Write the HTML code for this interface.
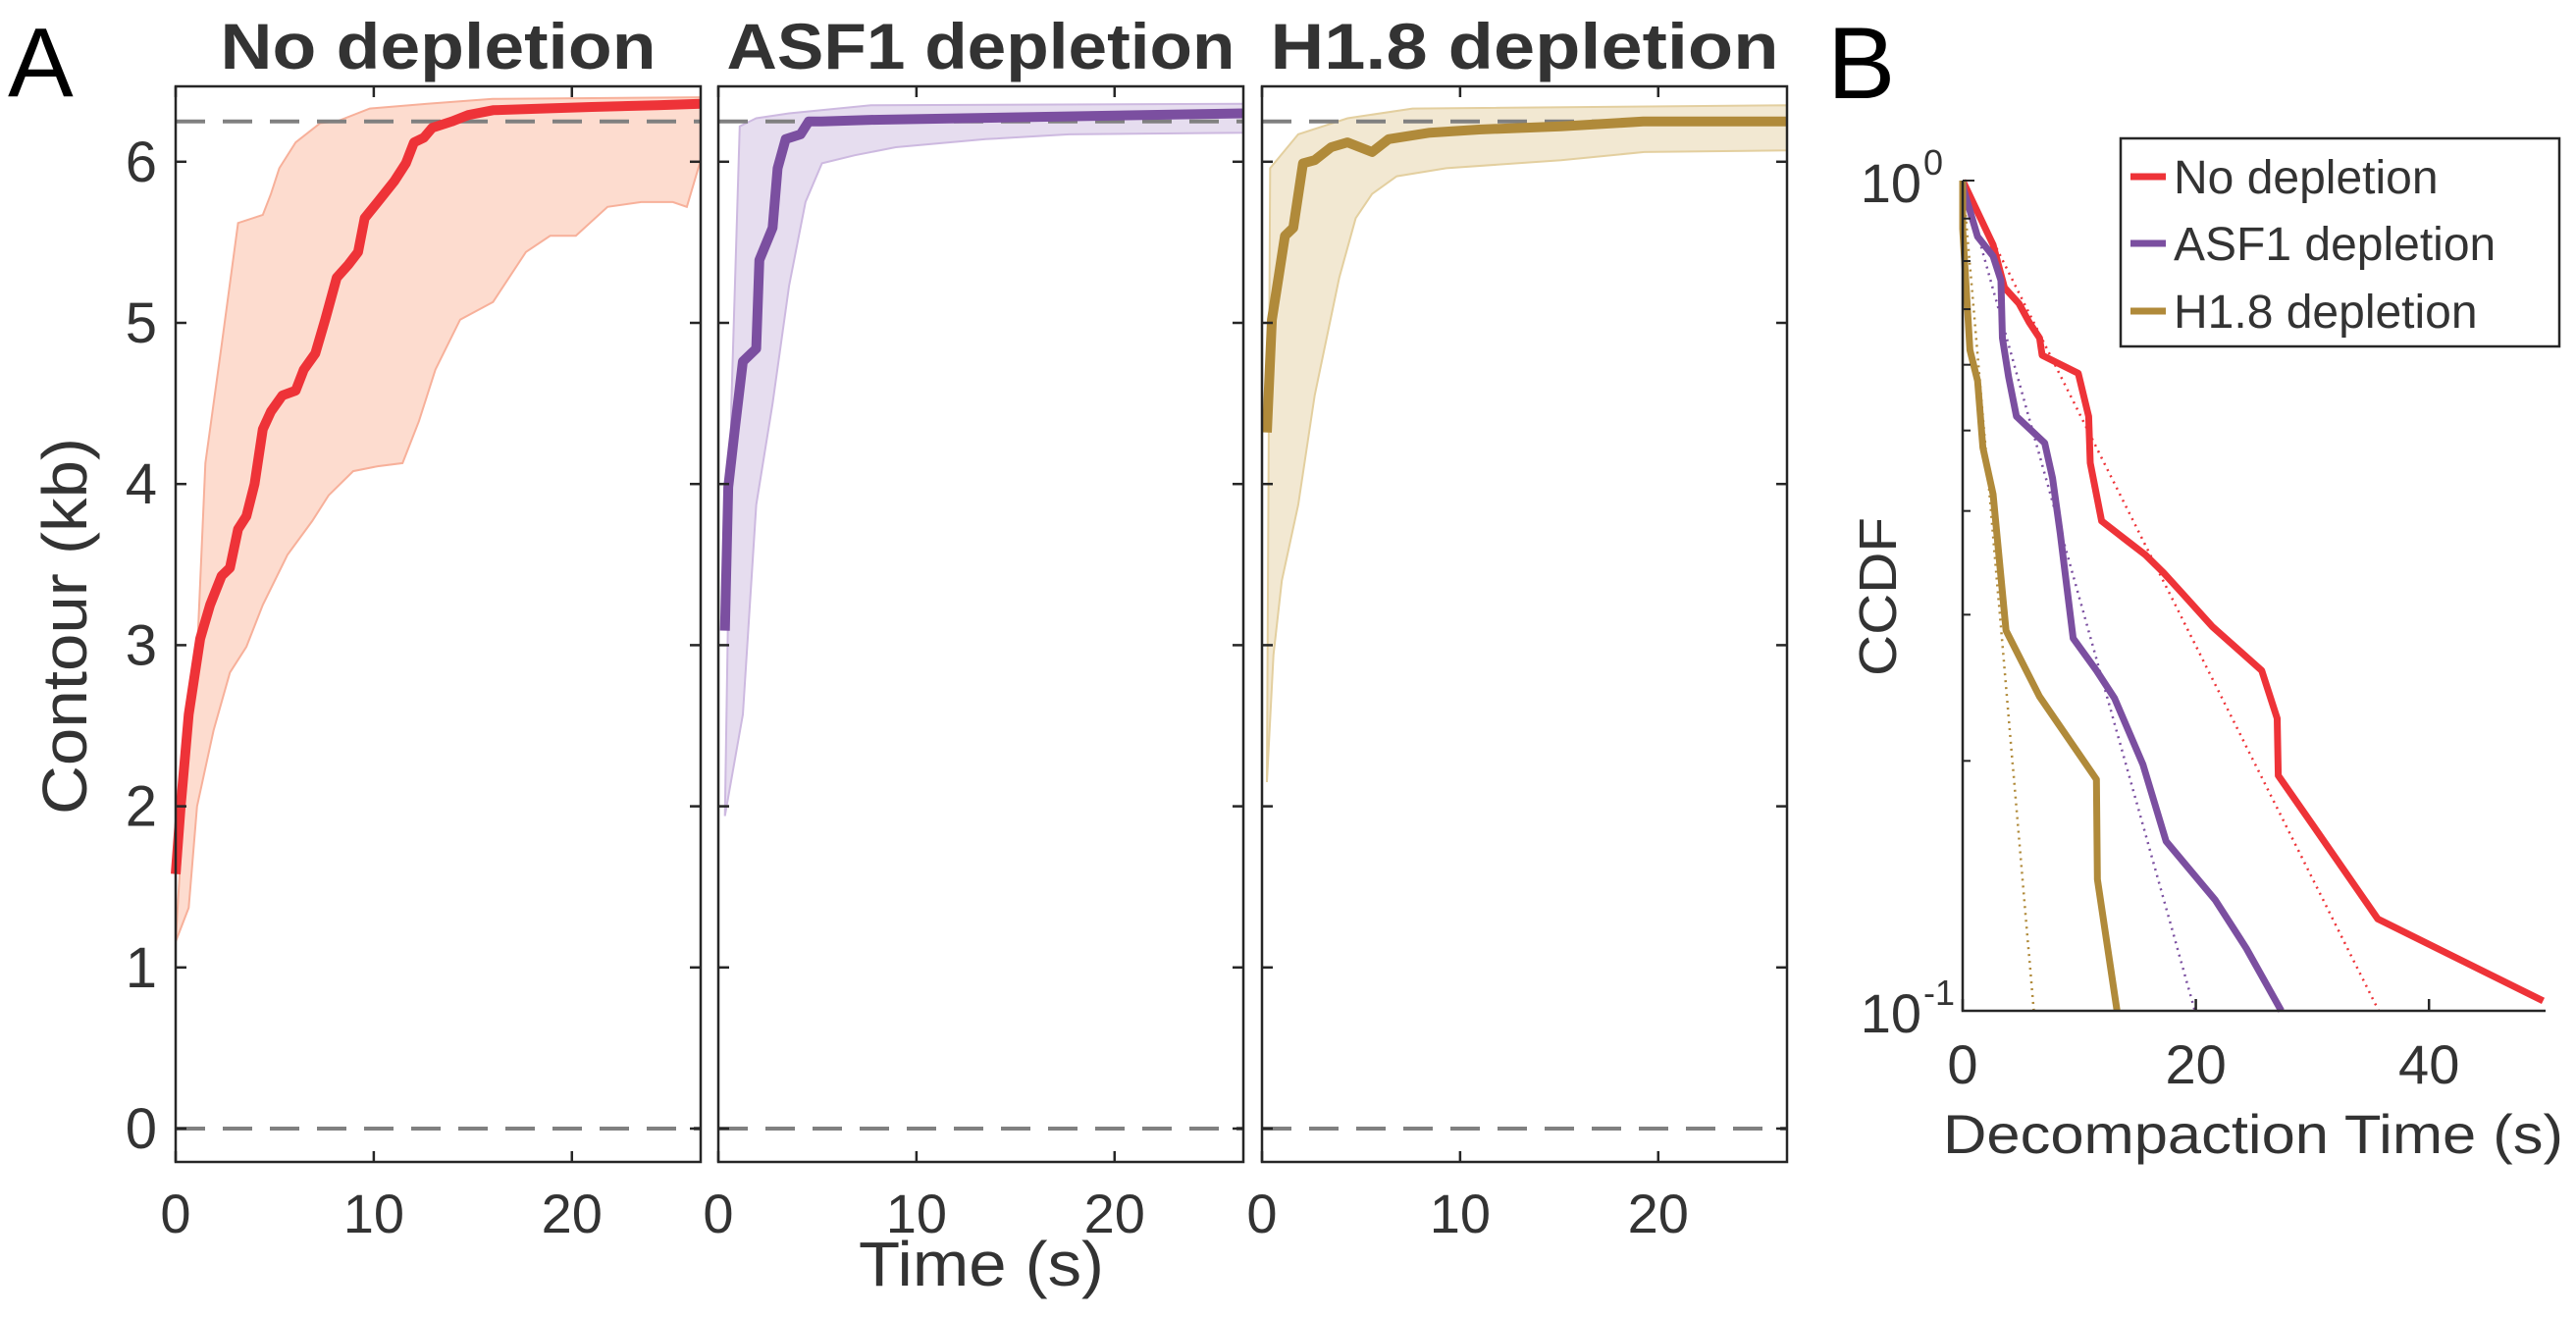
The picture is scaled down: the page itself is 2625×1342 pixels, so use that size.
<!DOCTYPE html>
<html><head><meta charset="utf-8"><style>
html,body{margin:0;padding:0;background:#fff;}
svg{display:block;font-family:"Liberation Sans",sans-serif;}
</style></head><body>
<svg id="fig" width="2625" height="1342" viewBox="0 0 2625 1342" xmlns="http://www.w3.org/2000/svg">
<text x="8" y="98" font-size="100" fill="#000">A</text>
<text x="1862" y="100" font-size="104" fill="#000">B</text>
<g id="panels"></g>
<g id="ccdf"></g>
</svg>
<script>
// ---- Panel A data: [time s, contour kb]
const titles = ["No depletion","ASF1 depletion","H1.8 depletion"];
const colors = ["#ee3338","#7b4fa0","#b08a3a"];
const fills = ["#fddccf","#e6ddef","#f2e8d2"];
const edges = ["#f7b09a","#cdb9e0","#e3cf9f"];
const yTicksA = [0,1,2,3,4,5,6];
const xTicksA = [0,10,20];
const refLevels = [0,6.25];
const meanNo = [[0,1.58],[0.25,1.99],[0.66,2.57],[1.24,3.04],[1.74,3.25],[2.32,3.43],[2.74,3.48],[3.15,3.72],[3.57,3.8],[3.98,4.0],[4.4,4.34],[4.81,4.45],[5.39,4.55],[6.06,4.58],[6.47,4.71],[7.05,4.81],[7.55,5.02],[8.13,5.28],[8.71,5.36],[9.21,5.44],[9.54,5.65],[10.2,5.75],[11.04,5.88],[11.62,5.99],[12.03,6.12],[12.53,6.15],[12.95,6.21],[13.94,6.25],[14.77,6.29],[16.02,6.32],[18.5,6.33],[21,6.34],[24.3,6.35],[26.5,6.36]];
const upNo = [[0,1.16],[0.4,2.0],[1.08,2.94],[1.5,4.13],[2.32,4.86],[3.15,5.62],[4.4,5.67],[4.81,5.8],[5.23,5.96],[6.06,6.12],[7.3,6.24],[8.13,6.25],[9.8,6.33],[12.7,6.36],[16,6.39],[26.5,6.4]];
const loNo = [[0,1.16],[0.66,1.37],[1.08,2.0],[1.91,2.47],[2.74,2.83],[3.57,2.99],[4.4,3.25],[5.64,3.56],[6.89,3.77],[7.72,3.93],[8.96,4.08],[10.2,4.11],[11.45,4.13],[12.28,4.39],[13.11,4.71],[14.36,5.02],[16.02,5.13],[17.68,5.44],[18.9,5.54],[20.2,5.54],[21.8,5.72],[23.5,5.75],[25.1,5.75],[25.8,5.72],[26.5,6.01]];
const meanAsf = [[0.33,3.09],[0.5,3.98],[0.83,4.34],[1.24,4.76],[1.91,4.84],[2.07,5.39],[2.74,5.59],[2.99,5.96],[3.4,6.14],[4.15,6.17],[4.56,6.25],[5.2,6.25],[7.7,6.26],[26.5,6.3]];
const upAsf = [[0.33,1.94],[0.66,4.5],[1.08,6.22],[1.91,6.27],[3.57,6.3],[7.7,6.35],[26.5,6.36]];
const loAsf = [[0.33,1.94],[1.24,2.57],[1.91,3.87],[2.74,4.5],[3.57,5.23],[4.4,5.75],[5.23,5.99],[6.89,6.04],[8.96,6.09],[13.5,6.14],[17.7,6.17],[26.5,6.18]];
const meanH1 = [[0.25,4.32],[0.5,5.02],[0.83,5.28],[1.16,5.54],[1.58,5.59],[2.07,5.99],[2.66,6.01],[3.49,6.09],[4.32,6.12],[5.56,6.06],[6.39,6.14],[8.47,6.18],[10.95,6.2],[15.1,6.22],[19.25,6.25],[26.5,6.25]];
const upH1 = [[0.25,2.15],[0.41,5.96],[1.83,6.17],[4.32,6.27],[7.6,6.33],[26.5,6.35]];
const loH1 = [[0.25,2.15],[0.58,2.94],[1.0,3.4],[1.83,3.87],[2.66,4.55],[3.9,5.28],[4.73,5.65],[5.56,5.8],[6.8,5.91],[9.3,5.96],[15.1,6.01],[19.3,6.06],[26.5,6.07]];
const means = [meanNo, meanAsf, meanH1];
const uppers = [upNo, upAsf, upH1];
const lowers = [loNo, loAsf, loH1];
// ---- Panel B data: [time s, CCDF]
const legendLabels = ["No depletion","ASF1 depletion","H1.8 depletion"];
const xTicksB = [0,20,40];
const ccdfNo = [[0,1],[2.61,0.837],[3.59,0.743],[4.83,0.711],[5.71,0.675],[6.6,0.646],[6.82,0.616],[7.93,0.605],[9.92,0.586],[10.81,0.52],[10.94,0.457],[11.92,0.389],[14.13,0.368],[15.68,0.354],[17.23,0.337],[18.78,0.319],[21.44,0.29],[25.65,0.257],[26.98,0.225],[27.07,0.192],[30.08,0.167],[35.61,0.129],[49.79,0.1028]];
const ccdfAsf = [[0,1],[0.09,0.975],[1.28,0.856],[2.61,0.811],[3.28,0.758],[3.41,0.646],[3.94,0.58],[4.61,0.52],[7.04,0.483],[7.71,0.438],[8.37,0.376],[9.48,0.281],[11.47,0.257],[13.02,0.238],[15.46,0.198],[17.45,0.16],[21.66,0.136],[24.32,0.119],[27.33,0.1]];
const ccdfH1 = [[0,1],[0,0.875],[0.62,0.625],[1.28,0.574],[1.73,0.477],[2.61,0.419],[3.72,0.287],[6.6,0.239],[11.47,0.19],[11.56,0.144],[13.24,0.1]];
const ccdfs = [ccdfNo, ccdfAsf, ccdfH1];
const fitTaus = [15.5, 8.65, 2.65];

const NS="http://www.w3.org/2000/svg";
function mk(tag, attrs, parent){const e=document.createElementNS(NS,tag);for(const k in attrs)e.setAttribute(k,attrs[k]);parent.appendChild(e);return e;}

const pLeft=[179,732,1286], pW=535, pTop=88, pBot=1184;
const xMaxA=26.5;
function yA(v){return 1150 - v*164.2;}
const gP=document.getElementById('panels');
for(let p=0;p<3;p++){
  const L=pLeft[p];
  const xA=t=>L + t/xMaxA*pW;
  const g=mk('g',{},gP);
  
  
  const title=mk('text',{x:L+pW/2,y:70,'font-size':66,'font-weight':'bold','text-anchor':'middle',fill:'#333',textLength:titles[p].length*37,lengthAdjust:'spacingAndGlyphs'},g);
  title.textContent=titles[p];
  
  
  const up=uppers[p], lo=lowers[p];
  let d='M'+up.map(q=>xA(q[0]).toFixed(1)+','+yA(q[1]).toFixed(1)).join('L');
  d+='L'+lo.slice().reverse().map(q=>xA(q[0]).toFixed(1)+','+yA(q[1]).toFixed(1)).join('L')+'Z';
  const band=mk('path',{d:d,fill:fills[p],stroke:edges[p],'stroke-width':2},g);
  
  
  refLevels.forEach(r=>{
    const l=mk('line',{x1:L,x2:L+pW,y1:yA(r),y2:yA(r),stroke:'#808080','stroke-width':4,'stroke-dasharray':'30 18'},g);
    
    
  });
  const m=means[p];
  const ml=mk('polyline',{points:m.map(q=>xA(q[0]).toFixed(1)+','+yA(q[1]).toFixed(1)).join(' '),fill:'none',stroke:colors[p],'stroke-width':10,'stroke-linejoin':'round'},g);
  
  
  const box=mk('rect',{x:L,y:pTop,width:pW,height:pBot-pTop,fill:'none',stroke:'#262626','stroke-width':2.5},g);
  
  
  yTicksA.forEach(v=>{
    mk('line',{x1:L,x2:L+11,y1:yA(v),y2:yA(v),stroke:'#262626','stroke-width':2.5},g);
    mk('line',{x1:L+pW-11,x2:L+pW,y1:yA(v),y2:yA(v),stroke:'#262626','stroke-width':2.5},g);
    if(p===0){
      const t=mk('text',{x:160,y:yA(v)+20,'font-size':58,'text-anchor':'end',fill:'#333'},g);
      t.textContent=v;
      
      
    }
  });
  xTicksA.forEach(v=>{
    mk('line',{x1:xA(v),x2:xA(v),y1:pBot,y2:pBot-11,stroke:'#262626','stroke-width':2.5},g);
    mk('line',{x1:xA(v),x2:xA(v),y1:pTop,y2:pTop+11,stroke:'#262626','stroke-width':2.5},g);
    const t=mk('text',{x:xA(v),y:1256,'font-size':56,'text-anchor':'middle',fill:'#333'},g);
    t.textContent=v;
    
    
  });
}
const ylab=mk('text',{x:0,y:0,'font-size':64,'text-anchor':'middle',fill:'#333',transform:'translate(88,638) rotate(-90)',textLength:384,lengthAdjust:'spacingAndGlyphs'},gP);
ylab.textContent='Contour (kb)';


const xlab=mk('text',{x:1000,y:1310,'font-size':64,'text-anchor':'middle',fill:'#333',textLength:250,lengthAdjust:'spacingAndGlyphs'},gP);
xlab.textContent='Time (s)';



const gB=document.getElementById('ccdf');
const bL=2000, bR=2594, bTop=184, bBot=1030, xMaxB=50;
const xB=t=>bL + t/xMaxB*(bR-bL);
const yB=v=>bBot - (Math.log10(v)+1)*(bBot-bTop);
for(let s=0;s<3;s++){
  const pts=[];
  for(let i=0;i<=60;i++){const t=i/60*fitTaus[s]*Math.LN10;pts.push(xB(t).toFixed(1)+','+yB(Math.exp(-t/fitTaus[s])).toFixed(1));}
  const f=mk('polyline',{points:pts.join(' '),fill:'none',stroke:colors[s],'stroke-width':2.5,'stroke-dasharray':'2 5'},gB);
  
  
}
for(let s=0;s<3;s++){
  const c=ccdfs[s];
  const l=mk('polyline',{points:c.map(q=>xB(q[0]).toFixed(1)+','+yB(q[1]).toFixed(1)).join(' '),fill:'none',stroke:colors[s],'stroke-width':7,'stroke-linejoin':'round'},gB);
  
  
}
const ax=mk('path',{d:`M${bL},${bTop}L${bL},${bBot}L${bR},${bBot}`,fill:'none',stroke:'#262626','stroke-width':2.5},gB);


for(let k=1;k<=10;k++){
  const v=k/10, len=(k===1||k===10)?12:8;
  mk('line',{x1:bL,x2:bL+len,y1:yB(v),y2:yB(v),stroke:'#262626','stroke-width':2},gB);
}
[[1,'0'],[0.1,'-1']].forEach(([v,e])=>{
  const t=mk('text',{x:1958,y:yB(v)+22,'font-size':56,'text-anchor':'end',fill:'#333'},gB);
  t.textContent='10';
  
  
  const sp=mk('text',{x:1960,y:yB(v)-6,'font-size':36,fill:'#333'},gB);
  sp.textContent=e;
  
  
});
xTicksB.forEach(v=>{
  mk('line',{x1:xB(v),x2:xB(v),y1:bBot,y2:bBot-12,stroke:'#262626','stroke-width':2.5},gB);
  const t=mk('text',{x:xB(v),y:1104,'font-size':56,'text-anchor':'middle',fill:'#333'},gB);
  t.textContent=v;
  
  
});
const cl=mk('text',{x:0,y:0,'font-size':54,'text-anchor':'middle',fill:'#333',transform:'translate(1932,608) rotate(-90)',textLength:162,lengthAdjust:'spacingAndGlyphs'},gB);
cl.textContent='CCDF';


const dl=mk('text',{x:1980,y:1175,'font-size':56,fill:'#333',textLength:632,lengthAdjust:'spacingAndGlyphs'},gB);
dl.textContent='Decompaction Time (s)';


const lg=mk('g',{},gB);


mk('rect',{x:2161,y:141,width:447,height:212,fill:'#fff',stroke:'#262626','stroke-width':2.5},lg);
const lgY=[180,248,317];
for(let s=0;s<3;s++){
  mk('line',{x1:2171,x2:2207,y1:lgY[s],y2:lgY[s],stroke:colors[s],'stroke-width':7},lg);
  const t=mk('text',{x:2215,y:lgY[s]+17,'font-size':48,fill:'#333'},lg);
  t.textContent=legendLabels[s];
  
  
}
</script>
</body></html>
